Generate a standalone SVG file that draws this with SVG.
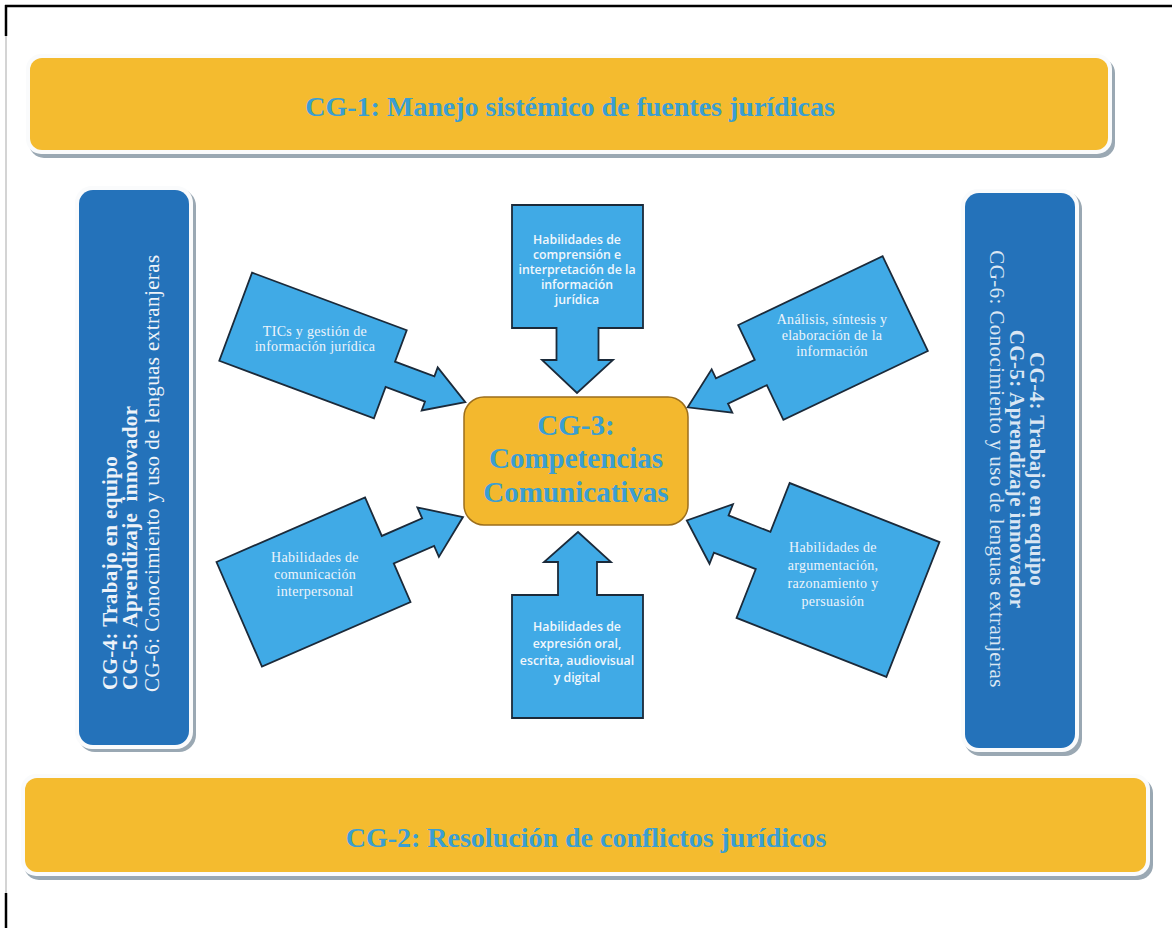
<svg xmlns="http://www.w3.org/2000/svg" width="1172" height="928" viewBox="0 0 1172 928">
<defs>
<style>
.band{fill:#F4BB2F}
.rim{fill:#FAFBFC}
.shadow{fill:#9AA8B3}
.panel{fill:#2472BA}
.arrow{fill:#40AAE6;stroke:#1B2A3A;stroke-width:1.8;stroke-linejoin:miter}
.title{font-family:"Liberation Serif","Times New Roman",serif;font-weight:bold;font-size:28px;fill:#3A9ED2;text-anchor:middle}
.ctext{font-family:"Liberation Serif","Times New Roman",serif;font-weight:bold;font-size:29px;fill:#3A9ED2;text-anchor:middle}
.side{font-family:"Liberation Serif","Times New Roman",serif;font-size:21px;letter-spacing:0.4px}
.sideL{fill:#EEF3F9}
.sideR{fill:#D9E6F3}
.b{font-weight:bold}
.serif{font-family:"Liberation Serif","Times New Roman",serif;font-size:14px;fill:#EEF4FB;text-anchor:middle;letter-spacing:0.3px}
.sans{font-family:"Open Sans","Liberation Sans",sans-serif;font-weight:600;font-size:12.3px;fill:#F2F7FC;text-anchor:middle}
.frame{stroke:#000;stroke-width:2.5;fill:none}
</style>
</defs>
<rect width="1172" height="928" fill="#FFFFFF"/>
<g id="frame">
<line class="frame" x1="5" y1="6" x2="1172" y2="6"/>
<line class="frame" x1="6" y1="5" x2="6" y2="36"/>
<line x1="6" y1="36" x2="6" y2="893" stroke="#A9A9A9" stroke-width="1"/>
<line class="frame" x1="6" y1="893" x2="6" y2="928"/>
</g>
<g id="cg1">
<rect class="shadow" x="29" y="58" width="1086" height="100" rx="15"/>
<rect class="rim" x="26" y="54" width="1086" height="100" rx="15"/>
<rect class="band" x="30" y="58" width="1078" height="92" rx="12"/>
<text class="title" x="570" y="116">CG-1: Manejo sistémico de fuentes jurídicas</text>
</g>
<g id="cg2">
<rect class="shadow" x="24" y="778" width="1129" height="102" rx="15"/>
<rect class="rim" x="21" y="774" width="1129" height="102" rx="15"/>
<rect class="band" x="25" y="778" width="1121" height="94" rx="12"/>
<text class="title" x="586" y="847">CG-2: Resolución de conflictos jurídicos</text>
</g>
<g id="panel-left">
<rect class="shadow" x="78" y="189" width="118" height="563" rx="17"/>
<rect class="rim" x="75" y="186" width="118" height="563" rx="17"/>
<rect class="panel" x="79" y="190" width="110" height="555" rx="14"/>
<g class="side sideL">
<text class="b" transform="translate(117,690) rotate(-90)">CG-4: Trabajo en equipo</text>
<text class="b" transform="translate(137,690) rotate(-90)" xml:space="preserve">CG-5: Aprendizaje  innovador</text>
<text transform="translate(159,692) rotate(-90)">CG-6: Conocimiento y uso de lenguas extranjeras</text>
</g>
</g>
<g id="panel-right">
<rect class="shadow" x="964" y="192" width="118" height="564" rx="17"/>
<rect class="rim" x="961" y="189" width="118" height="563" rx="17"/>
<rect class="panel" x="965" y="193" width="110" height="555" rx="14"/>
<g class="side sideR" text-anchor="middle">
<text class="b" transform="translate(1030,469) rotate(90)">CG-4: Trabajo en equipo</text>
<text class="b" transform="translate(1010,469) rotate(90)">CG-5: Aprendizaje innovador</text>
<text transform="translate(990,469) rotate(90)">CG-6: Conocimiento y uso de lenguas extranjeras</text>
</g>
</g>
<g id="cg3">
<rect x="464" y="397" width="224" height="128" rx="20" fill="#F3B82E" stroke="#9C6E1C" stroke-width="1.5"/>
<text class="ctext" x="576" y="435">CG-3:</text>
<text class="ctext" x="576" y="468">Competencias</text>
<text class="ctext" x="576" y="502">Comunicativas</text>
</g>
<g id="connectors">
<g id="arrow-comprension">
<polygon class="arrow" points="512,205 643,205 643,328 598.5,328 598.5,360 613,360 577,393 542,360 556.5,360 556.5,328 512,328"/>
<text class="sans" x="577" y="244">Habilidades de</text>
<text class="sans" x="577" y="259">comprensión e</text>
<text class="sans" x="577" y="274">interpretación de la</text>
<text class="sans" x="577" y="289">información</text>
<text class="sans" x="577" y="304">jurídica</text>
</g>
<g id="arrow-expresion">
<polygon class="arrow" points="512,718 643,718 643,595 597,595 597,562 611,562 578,532 544,562 558,562 558,595 512,595"/>
<text class="sans" x="577" y="631">Habilidades de</text>
<text class="sans" x="577" y="648">expresión oral,</text>
<text class="sans" x="577" y="665">escrita, audiovisual</text>
<text class="sans" x="577" y="682">y digital</text>
</g>
<g id="arrow-tics">
<polygon class="arrow" transform="translate(313,345.5) rotate(20.4)" points="-82.5,-47 82.5,-47 82.5,-13.5 124.5,-13.5 124.5,-23 162.5,0 124.5,23 124.5,13.5 82.5,13.5 82.5,47 -82.5,47"/>
<text class="serif" x="315" y="336">TICs y gestión de</text>
<text class="serif" x="315" y="351">información jurídica</text>
</g>
<g id="arrow-analisis">
<polygon class="arrow" transform="translate(833,338) rotate(154.5)" points="-80,-52.5 80,-52.5 80,-14 123,-14 123,-24 161,0 123,24 123,14 80,14 80,52.5 -80,52.5"/>
<text class="serif" x="832" y="324">Análisis, síntesis y</text>
<text class="serif" x="832" y="340">elaboración de la</text>
<text class="serif" x="832" y="356">información</text>
</g>
<g id="arrow-comunicacion">
<polygon class="arrow" transform="translate(313.5,582) rotate(-23.5)" points="-81,-57 81,-57 81,-15 125,-15 125,-27 163,0 125,27 125,15 81,15 81,57 -81,57"/>
<text class="serif" x="315" y="562">Habilidades de</text>
<text class="serif" x="315" y="579">comunicación</text>
<text class="serif" x="315" y="596">interpersonal</text>
</g>
<g id="arrow-argumentacion">
<polygon class="arrow" transform="translate(838,580) rotate(201.5)" points="-80.5,-72.5 80.5,-72.5 80.5,-20 125.5,-20 125.5,-32 162.5,0 125.5,32 125.5,20 80.5,20 80.5,72.5 -80.5,72.5"/>
<text class="serif" x="833" y="552">Habilidades de</text>
<text class="serif" x="833" y="570">argumentación,</text>
<text class="serif" x="833" y="588">razonamiento y</text>
<text class="serif" x="833" y="606">persuasión</text>
</g>
</g>
</svg>
